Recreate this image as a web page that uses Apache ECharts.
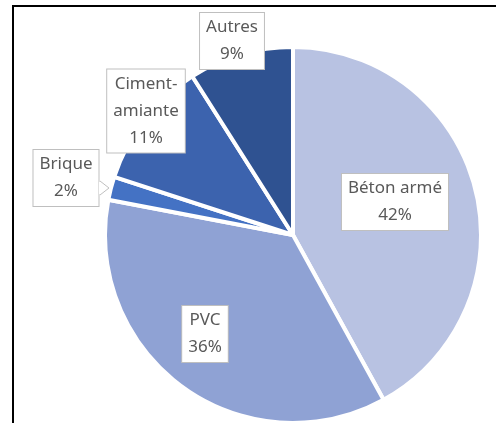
<!DOCTYPE html>
<html>
<head>
<meta charset="utf-8">
<script src="https://cdn.jsdelivr.net/npm/echarts@6/dist/echarts.min.js"></script>
<style>
  html, body { margin: 0; padding: 0; background: #fff; }
  #frame {
    position: absolute; left: 12px; top: 5px; width: 500px; height: 430px;
    border-top: 2px solid #000; border-left: 2px solid #000;
  }
  #main { position: absolute; left: 0; top: 0; width: 496px; height: 423px; }
</style>
</head>
<body>
<div id="frame"></div>
<div id="main"></div>
<script>
// matériaux (ordre horaire depuis midi)
var materiaux = ["Béton armé", "PVC", "Brique", "Ciment-amiante", "Autres"];
var parts = [42, 36, 2, 11, 9];
var couleurs = ["#b8c2e2", "#8fa2d4", "#4472c4", "#3c63ae", "#2f5291"];
// centre des étiquettes (px)
var posEtiquettes = [[395, 202], [205, 334], [66, 178], [146, 111], [232, 41]];

var chart = echarts.init(document.getElementById("main"));

var donnees = materiaux.map(function (nom, i) {
  return { name: nom, value: parts[i], itemStyle: { color: couleurs[i] } };
});

chart.setOption({
  animation: false,
  // petite pointe de la bulle "Brique"
  graphic: [
    {
      type: "polyline",
      z: 100,
      shape: { points: [[100, 181], [109, 188], [100, 195]] },
      style: { fill: "#fff", stroke: "#bfbfbf", lineWidth: 1 }
    },
    {
      type: "rect",
      z: 101,
      shape: { x: 99, y: 182, width: 2, height: 12 },
      style: { fill: "#fff" }
    }
  ],
  series: [
    {
      type: "pie",
      center: [293, 235],
      radius: 188,
      startAngle: 90,
      clockwise: true,
      data: donnees,
      itemStyle: { borderColor: "#fff", borderWidth: 4 },
      label: {
        show: true,
        position: "inside",
        formatter: function (p) {
          return p.name.replace("-", "-\n") + "\n" + p.value + "%";
        },
        color: "#595959",
        fontFamily: "Noto Sans",
        fontSize: 17,
        lineHeight: 27,
        backgroundColor: "#fff",
        borderColor: "#bfbfbf",
        borderWidth: 1,
        padding: [2, 6, 0, 6],
        align: "center"
      },
      labelLine: { show: false },
      emphasis: { disabled: true },
      labelLayout: function (params) {
        var pos = posEtiquettes[params.dataIndex];
        return { x: pos[0], y: pos[1], align: "center", verticalAlign: "middle" };
      }
    }
  ]
});
</script>
</body>
</html>
